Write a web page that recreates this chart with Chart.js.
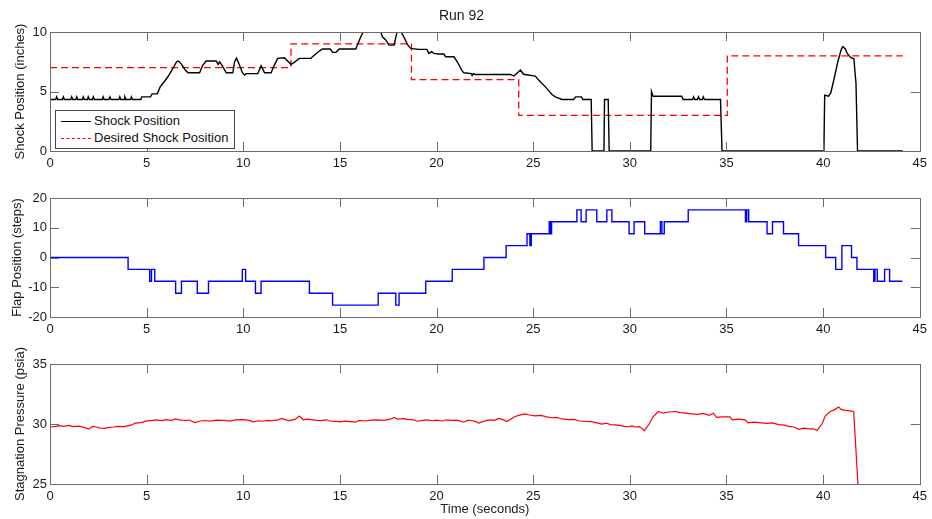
<!DOCTYPE html>
<html>
<head>
<meta charset="utf-8">
<title>Run 92</title>
<script src="https://cdn.jsdelivr.net/npm/chart.js@4.4.1/dist/chart.umd.min.js"></script>
<style>
  body { margin: 0; background: #fff; }
  #fig { position: relative; width: 932px; height: 519px; overflow: hidden; background: #fff; font-family: 'Liberation Sans', Arial, sans-serif; }
  #fig canvas { position: absolute; left: 0; }
  #legend { position: absolute; left: 55px; top: 110px; width: 178px; height: 37px; border: 1px solid #444; background: #fff; font-size: 13px; color: #111; }
  .row { position: absolute; left: 5px; height: 16px; line-height: 16px; white-space: nowrap; }
  .swatch { display: inline-block; width: 30px; vertical-align: middle; margin-right: 3px; }
</style>
</head>
<body>
<div id="fig">
  <canvas id="shock-chart" width="932" height="172" style="top:0"></canvas>
  <canvas id="flap-chart" width="932" height="167" style="top:172px"></canvas>
  <canvas id="press-chart" width="932" height="180" style="top:339px"></canvas>
  <div id="legend">
    <div class="row" style="top:2px"><span class="swatch" style="border-top:1.5px solid #000"></span>Shock Position</div>
    <div class="row" style="top:19px"><span class="swatch" style="border-top:1.5px dashed #f00"></span>Desired Shock Position</div>
  </div>
</div>
<script>
// tick labels
const timeTicks = [0, 5, 10, 15, 20, 25, 30, 35, 40, 45];
const shockTicks = [0, 5, 10];
const flapTicks = [-20, -10, 0, 10, 20];
const pressTicks = [25, 30, 35];

// measured shock position (inches)
const shockTime = [0, 0.3, 0.34, 0.4, 0.65, 0.69, 0.75, 1.08, 1.12, 1.18, 1.34, 1.38, 1.44, 1.68, 1.72, 1.78,
  1.94, 1.98, 2.04, 2.2, 2.24, 2.3, 2.7, 2.75, 2.8, 3.05, 3.1, 3.16, 3.56, 3.61, 3.66, 3.83, 3.87, 3.93,
  4.17, 4.21, 4.27, 4.7, 4.75, 5.2, 5.28, 5.55, 5.7, 5.9, 6.1, 6.36, 6.55, 6.65, 6.8, 7.0, 7.14, 7.74,
  7.9, 8.08, 8.6, 8.7, 8.78, 8.9, 9.12, 9.46, 9.55, 9.65, 9.8, 9.95, 10.06, 10.15, 10.75, 10.92, 11.0,
  11.1, 11.44, 11.6, 11.78, 12.12, 12.47, 12.64, 12.9, 13.5, 13.58, 13.93, 14.1, 14.5, 14.62, 14.8,
  14.96, 15.82, 16.08, 16.3, 17.05, 17.2, 17.37, 17.54, 17.8, 17.97, 18.1, 18.3, 18.49, 18.66, 19.09,
  19.5, 19.6, 19.75, 19.86, 20.12, 20.38, 20.47, 20.9, 21.07, 21.3, 21.41, 21.8, 21.84, 21.9, 22.0,
  23.82, 24.0, 24.2, 24.34, 24.5, 25.11, 25.28, 25.63, 25.97, 26.14, 26.49, 27.09, 27.2, 27.5, 27.57,
  28.0, 28.05, 28.66, 28.69, 28.88, 28.93, 31.08, 31.12, 31.2, 32.68, 32.76, 33.25, 33.3, 33.36, 33.5,
  33.55, 33.62, 33.75, 33.8, 33.86, 34.69, 34.77, 40.04, 40.08, 40.28, 40.4, 40.59, 40.76, 40.94, 41.02,
  41.14, 41.25, 41.42, 41.59, 41.7, 41.78, 44.12];
const shockPos = [4.33, 4.33, 4.55, 4.33, 4.33, 4.55, 4.33, 4.33, 4.55, 4.33, 4.33, 4.55, 4.33, 4.33, 4.55, 4.33,
  4.33, 4.55, 4.33, 4.33, 4.55, 4.33, 4.33, 4.55, 4.33, 4.33, 4.55, 4.33, 4.33, 4.55, 4.33, 4.33, 4.55, 4.33,
  4.33, 4.55, 4.33, 4.33, 4.55, 4.55, 4.8, 4.8, 5.39, 5.8, 6.24, 6.94, 7.5, 7.56, 7.3, 6.8, 6.57, 6.57,
  7.2, 7.56, 7.56, 7.28, 7.5, 7.2, 6.57, 6.57, 7.5, 7.8, 7.25, 6.6, 6.38, 6.5, 6.5, 7.16, 6.9,
  6.57, 6.57, 7.2, 7.78, 7.84, 7.28, 7.45, 7.78, 7.78, 7.92, 8.4, 8.57, 8.57, 8.29, 8.29,
  8.57, 8.57, 9.6, 10.3, 10.3, 9.6, 9.33, 8.9, 8.9, 10.1, 10.2, 9.6, 8.96, 8.62, 8.54,
  8.54, 8.2, 8.35, 8.2, 8.15, 8.15, 7.92, 7.92, 7.5, 6.8, 6.57, 6.5, 6.35, 6.5, 6.43,
  6.43, 6.3, 6.6, 6.8, 6.45, 6.3, 5.96, 5.39, 4.75, 4.55, 4.33, 4.33, 4.55, 4.55, 4.33,
  4.33, 0, 0, 4.33, 4.33, 0, 0, 5.0, 4.6, 4.6, 4.33, 4.33, 4.55, 4.33, 4.33,
  4.55, 4.33, 4.33, 4.55, 4.33, 4.33, 0, 0, 4.69, 4.6, 4.9, 6.24, 7.5, 8.54, 8.77,
  8.6, 8.2, 7.87, 7.75, 5.7, 0, 0];

// desired shock position (value holds from each time until the next)
const desiredTime = [0, 12.47, 18.7, 24.25, 35.04, 44.12];
const desiredPos = [7, 9, 6, 3, 8, 8];

// flap position (steps), held from each time until the next
const flapTime = [0, 4.04, 5.16, 5.25, 5.42, 6.5, 6.8, 7.62, 8.2, 9.95, 10.12, 10.63, 10.92, 13.42, 14.62,
  16.98, 17.89, 18.06, 19.44, 20.81, 22.45, 23.6, 24.68, 24.83, 24.9, 25.83, 25.88, 25.95, 27.26, 27.48,
  27.74, 28.29, 28.81, 29.07, 29.96, 30.22, 30.77, 31.58, 31.66, 31.78, 33.02, 35.98, 36.05, 36.15,
  37.1, 37.38, 37.95, 38.73, 40.13, 40.65, 40.97, 41.47, 41.75, 42.62, 42.68, 42.8, 43.18, 43.44, 44.1];
const flapSteps = [0, -4, -8, -4, -8, -12, -8, -12, -8, -4, -8, -12, -8, -12, -16,
  -12, -16, -12, -8, -4, 0, 4, 8, 4, 8, 12, 8, 12, 16, 12,
  16, 12, 16, 12, 8, 12, 8, 12, 8, 12, 16, 12, 16, 12,
  8, 12, 8, 4, 0, -4, 4, 0, -4, -8, -4, -8, -4, -8, -8];

// stagnation pressure (psia)
const pressTime = [0, 0.3, 0.5, 0.7, 1.0, 1.2, 1.5, 1.8, 2.0, 2.2, 2.4, 2.6, 2.8, 3.0, 3.3, 3.5, 3.8, 4.0,
  4.2, 4.4, 4.7, 5.0, 5.3, 5.5, 5.8, 6.0, 6.3, 6.5, 6.7, 7.0, 7.2, 7.5, 7.8, 8.0, 8.3, 8.6, 9.0, 9.3,
  9.6, 10.0, 10.3, 10.5, 10.8, 11.0, 11.3, 11.5, 11.8, 12.0, 12.2, 12.4, 12.7, 12.9, 13.1, 13.3, 13.5,
  13.8, 14.0, 14.3, 14.5, 14.8, 15.0, 15.3, 15.5, 15.8, 16.0, 16.3, 16.6, 17.0, 17.3, 17.6, 17.8, 18.0,
  18.3, 18.5, 18.8, 19.0, 19.3, 19.5, 19.8, 20.0, 20.3, 20.5, 20.8, 21.0, 21.2, 21.4, 21.6, 21.8, 22.0,
  22.18, 22.4, 22.6, 22.86, 23.0, 23.2, 23.4, 23.63, 23.8, 23.98, 24.2, 24.4, 24.58, 24.8, 25.1, 25.4,
  25.7, 25.96, 26.2, 26.5, 26.82, 27.1, 27.4, 27.68, 28.0, 28.3, 28.54, 28.8, 29.0, 29.23, 29.5, 29.7,
  29.92, 30.1, 30.3, 30.5, 30.75, 31.0, 31.2, 31.48, 31.74, 32.0, 32.34, 32.6, 32.9, 33.2, 33.5, 33.8,
  34.1, 34.32, 34.49, 34.8, 35.18, 35.3, 35.6, 35.98, 36.1, 36.4, 36.8, 37.1, 37.36, 37.7, 38.0, 38.22,
  38.5, 38.74, 39.0, 39.25, 39.5, 39.68, 39.94, 40.11, 40.37, 40.6, 40.8, 40.95, 41.1, 41.4, 41.58, 41.82];
const pressVal = [29.75, 29.8, 29.86, 29.8, 29.88, 29.78, 29.82, 29.7, 29.57, 29.8, 29.75, 29.66, 29.63, 29.7,
  29.75, 29.8, 29.78, 29.85, 29.9, 30.07, 30.12, 30.26, 30.3, 30.34, 30.28, 30.36, 30.3, 30.43, 30.35, 30.29,
  30.33, 30.12, 30.25, 30.29, 30.24, 30.33, 30.3, 30.24, 30.35, 30.37, 30.3, 30.18, 30.27, 30.23, 30.3, 30.27,
  30.35, 30.46, 30.35, 30.28, 30.4, 30.66, 30.35, 30.4, 30.37, 30.3, 30.28, 30.35, 30.23, 30.22, 30.18, 30.24,
  30.2, 30.15, 30.3, 30.25, 30.33, 30.34, 30.3, 30.4, 30.54, 30.4, 30.45, 30.38, 30.35, 30.23, 30.3, 30.34,
  30.27, 30.32, 30.25, 30.35, 30.3, 30.33, 30.26, 30.15, 30.3, 30.29, 30.22, 30.07, 30.2, 30.3, 30.34, 30.3,
  30.46, 30.38, 30.21, 30.35, 30.57, 30.7, 30.78, 30.85, 30.75, 30.68, 30.72, 30.6, 30.52, 30.55, 30.42,
  30.36, 30.38, 30.25, 30.22, 30.2, 30.1, 29.99, 30.06, 29.95, 29.92, 29.88, 29.8, 29.77, 29.84, 29.75,
  29.78, 29.45, 30.0, 30.6, 31.04, 30.9, 31.0, 31.04, 30.95, 30.9, 30.85, 30.8, 30.88, 30.72, 30.9, 30.55,
  30.6, 30.6, 30.35, 30.4, 30.34, 30.1, 30.15, 30.1, 30.05, 30.1, 29.95, 29.9, 29.8, 29.75, 29.55, 29.65,
  29.6, 29.6, 29.45, 30.0, 30.68, 31.04, 31.2, 31.41, 31.2, 31.15, 31.1, 31.05, 24.5];

Chart.defaults.font.family = "'Liberation Sans', Arial, sans-serif";
Chart.defaults.font.size = 13;
Chart.defaults.color = '#1a1a1a';

const AXIS_COLOR = '#6b6b6b';

// matlab style box with inward ticks on all four sides
const boxAxes = {
  id: 'boxAxes',
  afterDatasetsDraw(chart) {
    const { ctx, chartArea: a, scales: { x, y } } = chart;
    ctx.save();
    ctx.strokeStyle = AXIS_COLOR;
    ctx.lineWidth = 1;
    ctx.strokeRect(Math.round(a.left) + 0.5, Math.round(a.top) + 0.5, Math.round(a.width), Math.round(a.height));
    ctx.beginPath();
    x.ticks.forEach(t => {
      const px = Math.round(x.getPixelForValue(t.value)) + 0.5;
      ctx.moveTo(px, a.bottom); ctx.lineTo(px, a.bottom - 9);
      ctx.moveTo(px, a.top); ctx.lineTo(px, a.top + 9);
    });
    y.ticks.forEach(t => {
      const py = Math.round(y.getPixelForValue(t.value)) + 0.5;
      ctx.moveTo(a.left, py); ctx.lineTo(a.left + 9, py);
      ctx.moveTo(a.right, py); ctx.lineTo(a.right - 9, py);
    });
    ctx.stroke();
    ctx.restore();
  }
};

function points(xs, ys) {
  return xs.map((x, i) => ({ x, y: ys[i] }));
}

function makeChart(id, cfg) {
  const ctx = document.getElementById(id).getContext('2d');
  return new Chart(ctx, {
    type: 'line',
    data: { datasets: cfg.datasets },
    options: {
      responsive: false,
      animation: false,
      devicePixelRatio: 1,
      layout: { padding: { top: cfg.padTop, right: 9, left: 0, bottom: 0 } },
      elements: { point: { radius: 0 }, line: { tension: 0 } },
      plugins: {
        legend: { display: false },
        tooltip: { enabled: false },
        title: cfg.title || { display: false }
      },
      scales: {
        x: {
          type: 'linear', min: 0, max: 45,
          grid: { display: false, drawTicks: false, tickLength: 0 }, border: { display: false },
          afterBuildTicks: s => { s.ticks = timeTicks.map(v => ({ value: v })); },
          afterFit: s => { s.height = cfg.xHeight; },
          ticks: { padding: 5, maxRotation: 0, autoSkip: false },
          title: cfg.xTitle || { display: false }
        },
        y: {
          type: 'linear', min: cfg.yMin, max: cfg.yMax,
          grid: { display: false, drawTicks: false, tickLength: 0 }, border: { display: false },
          afterBuildTicks: s => { s.ticks = cfg.yTicks.map(v => ({ value: v })); },
          afterFit: s => { s.width = 50; },
          ticks: { padding: 3 },
          title: { display: true, text: cfg.yLabel, padding: { top: cfg.yTitlePad, bottom: 0 } }
        }
      }
    },
    plugins: [boxAxes]
  });
}

makeChart('shock-chart', {
  padTop: 0, xHeight: 21, yMin: 0, yMax: 10, yTicks: shockTicks, yTitlePad: 13,
  yLabel: 'Shock Position (inches)',
  title: { display: true, text: 'Run 92', font: { size: 14, weight: 'normal' }, color: '#1a1a1a', padding: { top: 8, bottom: 7.2 } },
  datasets: [
    { label: 'Shock Position', data: points(shockTime, shockPos), borderColor: '#000', borderWidth: 1.4 },
    { label: 'Desired Shock Position', data: points(desiredTime, desiredPos), borderColor: '#f00', borderWidth: 1.3, borderDash: [7, 4], stepped: 'before' }
  ]
});

makeChart('flap-chart', {
  padTop: 26, xHeight: 22, yMin: -20, yMax: 20, yTicks: flapTicks, yTitlePad: 10,
  yLabel: 'Flap Position (steps)',
  datasets: [
    { label: 'Flap Position', data: points(flapTime, flapSteps), borderColor: '#0000ff', borderWidth: 1.4, stepped: 'before' }
  ]
});

makeChart('press-chart', {
  padTop: 25, xHeight: 35, yMin: 25, yMax: 35, yTicks: pressTicks, yTitlePad: 12.5,
  yLabel: 'Stagnation Pressure (psia)',
  xTitle: { display: true, text: 'Time (seconds)', padding: { top: 0, bottom: 2 } },
  datasets: [
    { label: 'Stagnation Pressure', data: points(pressTime, pressVal), borderColor: '#f00', borderWidth: 1.2 }
  ]
});
</script>
</body>
</html>
